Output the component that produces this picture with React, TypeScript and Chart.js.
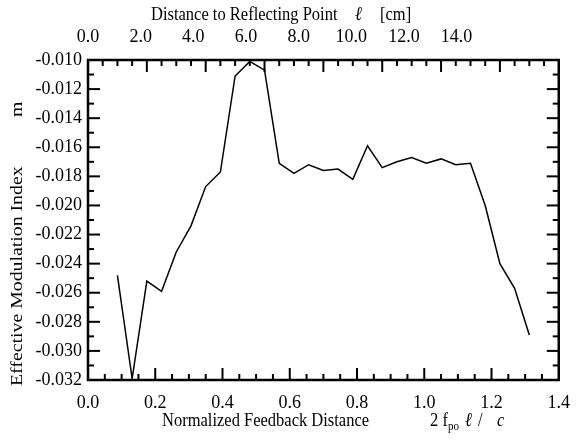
import React, { useEffect, useRef } from 'react';
import { Chart, registerables } from 'chart.js';

Chart.register(...registerables);

// Distance to reflecting point (cm)
const distanceCm = [
  1.0, 1.5, 2.0, 2.5, 3.0, 3.5, 4.0, 4.5, 5.0, 5.5, 6.0, 6.5, 7.0, 7.5, 8.0,
  8.5, 9.0, 9.5, 10.0, 10.5, 11.0, 11.5, 12.0, 12.5, 13.0, 13.5, 14.0, 14.5, 15.0,
];
// Effective modulation index m
const modulationIndex = [
  -0.0248, -0.0319, -0.0252, -0.0259, -0.0232, -0.0214, -0.0187, -0.0177, -0.0111,
  -0.0101, -0.0107, -0.0171, -0.0178, -0.0172, -0.0176, -0.0175, -0.0182, -0.0159,
  -0.0174, -0.0170, -0.0167, -0.0171, -0.0168, -0.0172, -0.0171, -0.0200, -0.0240,
  -0.0257, -0.0289,
];

const bottomTickValues = [0, 0.2, 0.4, 0.6, 0.8, 1.0, 1.2, 1.4];
const bottomTickLabels = ['0.0', '0.2', '0.4', '0.6', '0.8', '1.0', '1.2', '1.4'];
const topTickValues = [0, 2, 4, 6, 8, 10, 12, 14];
const topTickLabels = ['0.0', '2.0', '4.0', '6.0', '8.0', '10.0', '12.0', '14.0'];
const yTickValues = [
  -0.032, -0.030, -0.028, -0.026, -0.024, -0.022, -0.020, -0.018, -0.016, -0.014, -0.012, -0.010,
];
const yTickLabels = [
  '-0.032', '-0.030', '-0.028', '-0.026', '-0.024', '-0.022', '-0.020', '-0.018', '-0.016',
  '-0.014', '-0.012', '-0.010',
];

const FONT = '"Liberation Serif", "Times New Roman", serif';
const STRETCH = 1.2;

const frameTicksPlugin = {
  id: 'frameTicks',
  afterDatasetsDraw(chart: any) {
    const { ctx, chartArea: a, scales } = chart;
    ctx.save();
    ctx.strokeStyle = '#000';
    ctx.lineWidth = 2;
    ctx.lineCap = 'butt';
    const MAJ = 12;
    const MIN = 6;
    const horiz = (scale: any, min: number, max: number, step: number, every: number, y0: number, dir: number) => {
      const n = Math.round((max - min) / step);
      for (let i = 1; i < n; i++) {
        const x = scale.getPixelForValue(min + i * step);
        if (x <= a.left + 1 || x >= a.right - 1) continue;
        const len = i % every === 0 ? MAJ : MIN;
        ctx.beginPath();
        ctx.moveTo(x, y0);
        ctx.lineTo(x, y0 + dir * len);
        ctx.stroke();
      }
    };
    const vert = (scale: any, min: number, max: number, step: number, every: number, x0: number, dir: number) => {
      const n = Math.round((max - min) / step);
      for (let i = 1; i < n; i++) {
        const y = scale.getPixelForValue(min + i * step);
        const len = i % every === 0 ? MAJ : MIN;
        ctx.beginPath();
        ctx.moveTo(x0, y);
        ctx.lineTo(x0 + dir * len, y);
        ctx.stroke();
      }
    };
    horiz(scales.x, 0, 1.4, 0.05, 4, a.bottom, -1);
    horiz(scales.xcm, 0, 16, 0.5, 4, a.top, 1);
    vert(scales.y, -0.032, -0.010, 0.001, 2, a.left, 1);
    vert(scales.y, -0.032, -0.010, 0.001, 2, a.right, -1);
    ctx.lineWidth = 2.5;
    ctx.strokeRect(a.left, a.top, a.right - a.left, a.bottom - a.top);
    ctx.restore();
  },
};

function hText(ctx: any, text: string, x: number, y: number, font: string) {
  ctx.save();
  ctx.translate(x, y);
  ctx.scale(1, STRETCH);
  ctx.font = font;
  ctx.fillText(text, 0, 0);
  ctx.restore();
}

const titlesPlugin = {
  id: 'axisTitles',
  afterDraw(chart: any) {
    const { ctx } = chart;
    ctx.save();
    ctx.fillStyle = '#000';
    ctx.textBaseline = 'alphabetic';
    ctx.textAlign = 'left';
    const f = `16.5px ${FONT}`;
    const fi = `italic 16.5px ${FONT}`;
    // top title
    hText(ctx, 'Distance to Reflecting Point', 151, 20, f);
    hText(ctx, '\u2113', 355, 20, fi);
    hText(ctx, '[cm]', 380, 20, f);
    // bottom title
    hText(ctx, 'Normalized Feedback Distance', 162, 426, f);
    hText(ctx, '2 f', 430, 426, f);
    hText(ctx, 'po', 448, 430, `11px ${FONT}`);
    hText(ctx, '\u2113', 465, 426, fi);
    hText(ctx, '/', 478, 426, f);
    hText(ctx, 'c', 497, 426, fi);
    // y title (rotated, stretched along the page's vertical direction)
    ctx.save();
    ctx.translate(22, 0);
    ctx.rotate(-Math.PI / 2);
    ctx.scale(STRETCH, 1);
    ctx.font = f;
    ctx.fillText('Effective Modulation Index', -386 / STRETCH, 0);
    ctx.fillText('m', -117 / STRETCH, 0);
    ctx.restore();
    ctx.restore();
  },
};

export default function App() {
  const canvasRef = useRef<HTMLCanvasElement | null>(null);

  useEffect(() => {
    const canvas = canvasRef.current;
    if (!canvas) return;
    const tickFont = { family: FONT, size: 18 };
    const chart = new Chart(canvas, {
      type: 'line',
      data: {
        datasets: [
          {
            data: distanceCm.map((d, i) => ({ x: d, y: modulationIndex[i] })),
            xAxisID: 'xcm',
            yAxisID: 'y',
            borderColor: '#000',
            borderWidth: 1.5,
            pointRadius: 0,
            tension: 0,
            fill: false,
          },
        ],
      },
      options: {
        responsive: false,
        animation: false,
        layout: { padding: { left: 0, right: 15, top: 0, bottom: 0 } },
        plugins: { legend: { display: false }, tooltip: { enabled: false }, title: { display: false } },
        scales: {
          x: {
            type: 'linear',
            position: 'bottom',
            min: 0,
            max: 1.4,
            grid: { display: false, drawTicks: false },
            border: { display: false },
            afterBuildTicks: (s: any) => {
              s.ticks = bottomTickValues.map((v) => ({ value: v }));
            },
            afterFit: (s: any) => {
              s.height = 62;
            },
            ticks: {
              autoSkip: false,
              maxRotation: 0,
              padding: 12,
              color: '#000',
              font: tickFont,
              callback: (_v: any, i: number) => bottomTickLabels[i],
            },
          },
          xTop: {
            type: 'linear',
            position: 'top',
            min: 0,
            max: 17.88,
            grid: { display: false, drawTicks: false },
            border: { display: false },
            afterBuildTicks: (s: any) => {
              s.ticks = topTickValues.map((v) => ({ value: v }));
            },
            afterFit: (s: any) => {
              s.height = 60;
            },
            ticks: {
              autoSkip: false,
              maxRotation: 0,
              padding: 12,
              color: '#000',
              font: tickFont,
              callback: (_v: any, i: number) => topTickLabels[i],
            },
          },
          xcm: {
            type: 'linear',
            position: 'top',
            min: 0,
            max: 16,
            display: false,
          },
          y: {
            type: 'linear',
            position: 'left',
            min: -0.032,
            max: -0.01,
            grid: { display: false, drawTicks: false },
            border: { display: false },
            afterBuildTicks: (s: any) => {
              s.ticks = yTickValues.map((v) => ({ value: v }));
            },
            afterFit: (s: any) => {
              s.width = 88;
            },
            ticks: {
              autoSkip: false,
              padding: 6,
              color: '#000',
              font: tickFont,
              callback: (_v: any, i: number) => yTickLabels[i],
            },
          },
        },
      },
      plugins: [frameTicksPlugin, titlesPlugin],
    } as any);
    return () => chart.destroy();
  }, []);

  return (
    <div style={{ position: 'absolute', left: 0, top: 0, width: 582, height: 442, background: '#fff' }}>
      <canvas ref={canvasRef} width={582} height={442} style={{ display: 'block' }} />
    </div>
  );
}
